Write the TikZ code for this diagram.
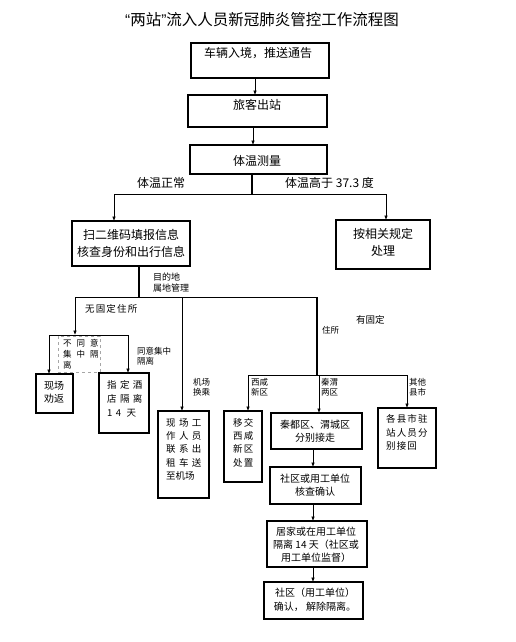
\documentclass[tikz,border=0pt]{standalone}
\usepackage{fontspec}
\setmainfont{Noto Sans CJK SC}
\newfontfamily\cjksp[LetterSpace=35]{Noto Sans CJK SC}
\newfontfamily\cjkspb[LetterSpace=12]{Noto Sans CJK SC}
\newfontfamily\latq{Liberation Sans}
\usetikzlibrary{arrows.meta}
\newcommand\bx[5]{\node[box, minimum width={#4-#2}, minimum height={#5-#3}] (#1) at ({(#2+#4)/2},{(#3+#5)/2}) {};}
\begin{document}
\begin{tikzpicture}[x=1pt,y=-1pt,
  box/.style={draw, line width=1.7pt, inner sep=0pt, outer sep=0pt},
  dbox/.style={draw=gray!70, dashed, line width=0.5pt, inner sep=0pt, outer sep=0pt},
  arr/.style={-{Latex[length=4.5pt,width=3.6pt]}, line width=0.7pt},
  ln/.style={line width=0.7pt},
  thk/.style={line width=2.6pt},
  tt/.style={inner sep=0pt, font=\fontsize{15.5}{17}\selectfont},
  tm/.style={inner sep=0pt, font=\fontsize{12}{14}\selectfont},
  ts/.style={inner sep=0pt, font=\fontsize{10}{12}\selectfont},
  tl/.style={inner sep=0pt, anchor=west, font=\fontsize{8.5}{10}\selectfont},
  tw/.style={inner sep=0pt, anchor=west, font=\fontsize{9.5}{11}\cjksp},
  twb/.style={inner sep=0pt, anchor=west, font=\fontsize{9.5}{11}\cjkspb},
]
\fill[white] (0,0) rectangle (516,642);
\useasboundingbox (0,0) rectangle (516,642);

% title
\node[tt] (title) at (262,20) {{\latq “}两站{\latq ”}流入人员新冠肺炎管控工作流程图};

% top boxes
\bx{b1}{191}{43}{329}{78}
\node[tm] (b1t) at (258,53) {车辆入境，推送通告};
\bx{b2}{188}{95}{327}{127}
\node[tm] (b2t) at (257,105) {旅客出站};
\bx{b3}{190}{145}{327}{174}
\node[tm] (b3t) at (257,161) {体温测量};

\draw[arr] (b1.south -| 255,0) -- (b2.north -| 255,0);
\draw[arr] (b2.south -| 253,0) -- (b3.north -| 253,0);

% temperature split
\coordinate (s1) at (252,194);
\coordinate (s1l) at (114,194);
\coordinate (s1r) at (386,194);
\draw[thk] (b3.south -| s1) -- (s1);
\draw[ln] (s1l) -- (s1r);
\node[tm] (lnorm) at (161,183) {体温正常};
\node[tm, anchor=west] (lhigh) at (285,183) {体温高于 37.3 度};

\bx{b4}{72}{221}{190}{266}
\node[tm] (b4t1) at (131,235) {扫二维码填报信息};
\node[tm] (b4t2) at (131,252) {核查身份和出行信息};
\bx{b5}{336}{220}{430}{269}
\node[tm] (b5t1) at (383,234) {按相关规定};
\node[tm] (b5t2) at (383,251) {处理};
\draw[arr] (s1l) -- (s1l |- b4.north);
\draw[arr] (s1r) -- (s1r |- b5.north);

% destination split
\coordinate (s2) at (139,297);
\coordinate (s2a) at (75,297);
\coordinate (s2b) at (182,297);
\coordinate (s2c) at (317,297);
\draw[thk] (b4.south -| s2) -- (s2);
\draw[ln] (s2a) -- (s2c);
\node[tl, font=\fontsize{9}{10}\selectfont] (ld1) at (153,277) {目的地};
\node[tl, font=\fontsize{9}{10}\selectfont] (ld2) at (153,288) {属地管理};

% no fixed residence
\node[tl, font=\fontsize{9.5}{11}\cjkspb] (lnf) at (85,309) {无固定住所};
\coordinate (s3) at (75,335);
\coordinate (s3l) at (49,335);
\coordinate (s3r) at (128,335);
\draw[arr] (s2a) -- (s3);
\draw[ln] (s3l) -- (s3r);
\node[dbox, minimum width=42, minimum height=36] (dq) at (79,354) {};
\node[tl, font=\fontsize{8.5}{10}\selectfont] (dq1) at (63,343) {不\hspace{5pt}同\hspace{5pt}意};
\node[tl, font=\fontsize{8.5}{10}\selectfont] (dq2) at (63,354) {集\hspace{5pt}中\hspace{5pt}隔};
\node[tl, font=\fontsize{8.5}{10}\selectfont] (dq3) at (63,365) {离};
\node[tl] (lag1) at (137,351) {同意集中};
\node[tl] (lag2) at (137,361) {隔离};

\bx{b6}{36}{374}{73}{413}
\node[ts] (b6t1) at (54,386) {现场};
\node[ts] (b6t2) at (54,399) {劝返};
\bx{b7}{99}{373}{149}{433}
\node[tw] (b7t1) at (107,385) {指定酒};
\node[tw] (b7t2) at (107,399) {店隔离};
\node[tw] (b7t3) at (107,413) {14 天};
\draw[arr] (s3l) -- (s3l |- b6.north);
\draw[arr] (s3r) -- (s3r |- b7.north);

% airport transfer
\node[tl] (lap1) at (193,382) {机场};
\node[tl] (lap2) at (193,392) {换乘};
\bx{b8}{158}{411}{209}{498}
\draw[arr] (s2b) -- (s2b |- b8.north);
\node[tw] (b8t1) at (166,423) {现场工};
\node[tw] (b8t2) at (166,436) {作人员};
\node[tw] (b8t3) at (166,449) {联系出};
\node[tw] (b8t4) at (166,463) {租车送};
\node[tl, font=\fontsize{9.5}{11}\selectfont] (b8t5) at (166,476) {至机场};

% fixed residence
\coordinate (s4) at (317,375);
\coordinate (s4l) at (248,375);
\coordinate (s4m) at (319,375);
\coordinate (s4r) at (407,375);
\draw[thk] (s2c) -- (s4);
\draw[ln] (s4l) -- (s4r);
\node[tl, font=\fontsize{9.5}{11}\selectfont] (lfx1) at (356,320) {有固定};
\node[tl] (lfx2) at (322,330) {住所};
\node[tl] (lxx1) at (251,382) {西咸};
\node[tl] (lxx2) at (251,392) {新区};
\node[tl] (lqw1) at (321,382) {秦渭};
\node[tl] (lqw2) at (321,392) {两区};
\node[tl] (lqt1) at (409,382) {其他};
\node[tl] (lqt2) at (409,392) {县市};

\bx{b9}{224}{411}{262}{482}
\node[twb] (b9t1) at (233,423) {移交};
\node[twb] (b9t2) at (233,436) {西咸};
\node[twb] (b9t3) at (233,449) {新区};
\node[twb] (b9t4) at (233,463) {处置};
\bx{b10}{271}{413}{362}{449}
\node[ts] (b10t1) at (315,425) {秦都区、渭城区};
\node[ts] (b10t2) at (315,438) {分别接走};
\bx{b11}{378}{408}{436}{468}
\node[twb] (b11t1) at (386,419) {各县市驻};
\node[twb] (b11t2) at (386,433) {站人员分};
\node[twb] (b11t3) at (386,446) {别接回};
\draw[arr] (s4l) -- (s4l |- b9.north);
\draw[arr] (s4m) -- (s4m |- b10.north);
\draw[arr] (s4r) -- (s4r |- b11.north);

\bx{b12}{270}{467}{361}{504}
\node[ts] (b12t1) at (315,479) {社区或用工单位};
\node[ts] (b12t2) at (315,492) {核查确认};
\bx{b13}{267}{521}{367}{567}
\node[ts] (b13t1) at (316,532) {居家或在用工单位};
\node[ts] (b13t2) at (316,545) {隔离 14 天（社区或};
\node[ts] (b13t3) at (316,558) {用工单位监督）};
\bx{b14}{264}{582}{363}{619}
\node[ts] (b14t1) at (315,593) {社区（用工单位）};
\node[ts] (b14t2) at (315,607) {确认， 解除隔离。};

\draw[arr] (b10.south -| 313,0) -- (b12.north -| 313,0);
\draw[arr] (b12.south -| 313,0) -- (b13.north -| 313,0);
\draw[arr] (b13.south -| 313,0) -- (b14.north -| 313,0);
\end{tikzpicture}
\end{document}
